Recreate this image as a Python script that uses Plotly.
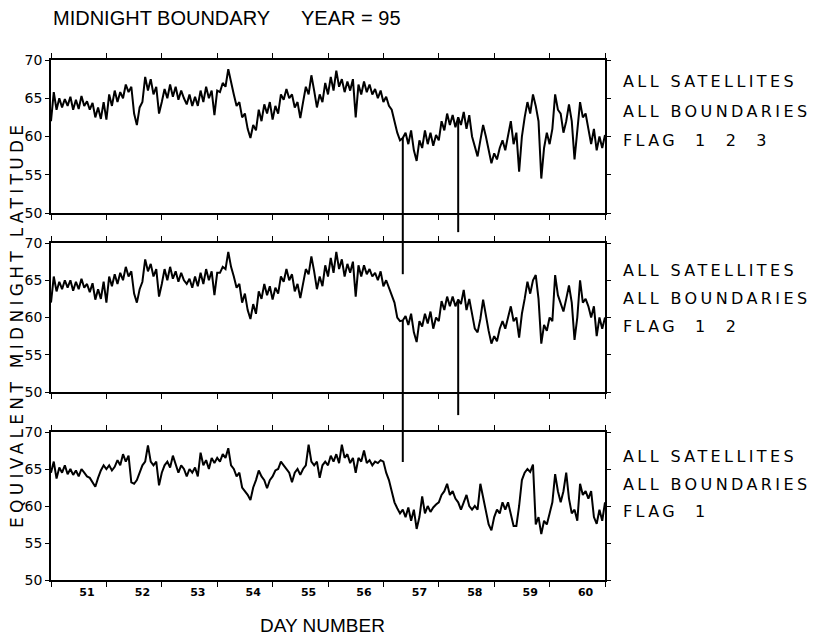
import plotly.graph_objects as go

# ---------------- data ----------------
DAY_START = 50.35
DAY_STEP = 0.05

# FLAG 1 2 3 (top panel), one row = half a day
flag123 = [
    62.0, 65.8, 63.5, 65.0, 63.8, 64.9, 64.0, 65.2, 63.5, 64.8,
    63.6, 65.3, 64.0, 64.6, 63.5, 64.4, 62.5, 63.8, 62.3, 64.5,
    62.2, 65.5, 64.0, 66.0, 64.5, 65.8, 65.0, 66.8, 65.8, 66.5,
    63.0, 61.5, 63.8, 64.5, 67.8, 66.0, 67.5, 65.5, 66.5, 63.0,
    64.5, 66.2, 65.0, 66.8, 65.2, 66.5, 64.8, 66.0, 65.0, 64.2,
    65.5, 64.0, 65.2, 64.0, 66.0, 64.5, 66.5, 65.0, 66.0, 62.8,
    66.0, 65.8, 67.0, 66.5, 68.8, 67.0, 65.5, 64.0, 64.5, 62.5,
    63.0, 61.0, 59.8, 61.5, 60.8, 63.5, 62.0, 64.2, 63.0, 64.5,
    62.2, 64.0, 63.0, 65.5, 64.8, 66.2, 65.0, 65.5, 63.8, 64.5,
    62.4, 64.5, 66.5, 65.5, 68.0, 66.0, 63.8, 65.5, 64.5, 67.0,
    65.5, 67.8, 66.0, 68.6, 66.5, 67.5, 65.8, 67.2, 66.0, 67.5,
    62.5, 66.8, 65.5, 67.2, 65.8, 66.8, 65.5, 66.2, 65.0, 66.0,
    64.5, 65.2, 64.0, 63.5, 62.0, 60.5, 59.5, 59.8, 60.5, 59.0,
    60.8, 58.2, 56.8, 59.5, 58.5, 60.8, 59.0, 60.5, 58.8, 60.2,
    59.5, 62.0, 60.8, 63.0, 61.5, 62.8, 61.2, 62.5, 61.5, 63.2,
    61.0, 62.8, 60.0, 58.5, 57.4, 59.5, 61.5, 60.0, 58.0, 56.5,
    57.8, 57.0, 58.5, 59.5, 58.2, 60.0, 62.0, 59.0, 60.5, 55.4,
    60.0, 62.5, 64.5, 63.0, 65.5, 64.0, 62.0, 54.5, 58.5, 60.5,
    59.0, 61.0, 65.5, 63.5, 63.0, 60.5, 62.0, 64.2, 62.0, 57.0,
    60.5, 64.5, 62.5, 63.0, 61.0, 59.0, 61.0, 58.2, 60.0, 58.5,
    60.2,
]
flag123_outlier_days = [56.70, 57.70]
flag123_outlier_lat = [42.0, 47.5]

# FLAG 1 2 (middle panel)
flag12 = [
    62.0, 65.5, 63.5, 64.8, 63.8, 65.0, 64.0, 65.0, 63.6, 64.8,
    63.8, 65.2, 64.0, 64.5, 63.4, 64.6, 62.4, 63.8, 62.5, 64.8,
    62.0, 65.5, 64.2, 65.8, 64.5, 66.0, 65.0, 66.8, 65.5, 66.2,
    63.2, 62.0, 63.8, 64.8, 67.8, 66.2, 67.2, 65.5, 66.5, 62.8,
    64.5, 66.5, 65.0, 66.8, 65.2, 66.2, 64.8, 66.0, 65.0, 64.5,
    65.2, 64.0, 65.5, 64.2, 66.0, 64.5, 66.5, 65.0, 66.2, 63.0,
    66.0, 66.0, 66.8, 66.5, 68.8, 66.8, 65.5, 64.0, 64.5, 62.0,
    63.2, 61.0, 59.8, 61.8, 60.5, 63.5, 62.5, 64.5, 63.0, 64.2,
    62.4, 64.0, 63.2, 65.5, 64.8, 66.5, 65.0, 65.8, 63.5, 64.5,
    62.6, 64.5, 66.5, 65.8, 68.2, 66.2, 63.8, 65.5, 64.2, 67.0,
    65.5, 68.0, 66.0, 68.8, 66.5, 67.8, 65.5, 67.2, 66.0, 67.5,
    62.8, 67.0, 65.5, 67.0, 65.8, 66.5, 65.5, 66.0, 65.0, 66.2,
    64.2, 65.0, 64.0, 63.2, 62.0, 60.0, 59.5, 59.6, 60.2, 59.0,
    60.5, 58.0, 56.7, 59.5, 58.8, 60.5, 59.2, 60.8, 58.5, 60.0,
    59.5, 62.2, 61.0, 62.8, 61.5, 62.8, 61.5, 62.4, 61.8, 63.7,
    61.0, 62.5, 60.5, 58.5, 58.0, 59.8, 62.4, 60.0, 58.2, 56.5,
    57.5, 56.8, 58.5, 59.5, 58.5, 60.0, 61.5, 59.5, 60.0, 57.3,
    60.5, 62.5, 64.8, 63.2, 65.0, 65.7, 62.5, 56.5, 59.0, 58.2,
    60.0, 59.5, 65.7, 63.0, 62.0, 60.8, 62.5, 64.3, 62.0, 57.0,
    60.0, 65.0, 62.0, 62.5, 61.5, 60.0, 61.5, 57.5, 60.0, 58.5,
    60.0,
]
flag12_outlier_days = [56.70, 57.70]
flag12_outlier_lat = [40.6, 46.9]

# FLAG 1 (bottom panel)
flag1 = [
    64.5, 66.0, 63.7, 65.2, 64.5, 65.5, 64.3, 65.0, 64.2, 64.8,
    64.0, 65.0, 64.5, 64.0, 63.8, 63.2, 62.6, 63.8, 64.8, 65.5,
    65.0, 65.5, 64.8, 65.3, 66.2, 65.5, 67.0, 66.0, 66.8, 63.2,
    63.0, 63.5, 64.5, 65.5, 66.0, 68.2, 66.0, 65.5, 66.0, 62.8,
    64.5, 65.5, 66.0, 65.2, 66.8, 65.5, 64.5, 65.5, 65.0, 64.0,
    65.0, 64.5, 65.2, 64.0, 67.2, 65.5, 66.2, 65.0, 66.5, 65.8,
    66.5, 66.0, 67.0, 66.5, 67.8, 65.5, 65.0, 64.0, 64.5, 62.5,
    62.0, 61.5, 60.8, 62.5, 63.5, 64.8, 64.0, 63.5, 62.4, 63.5,
    64.0, 64.8, 65.0, 66.0, 65.5, 65.0, 64.5, 63.2, 64.5, 65.0,
    64.2, 65.0, 65.5, 68.3, 66.0, 65.5, 66.0, 63.8, 65.5, 66.0,
    65.5, 66.8, 66.0, 67.0, 65.8, 68.3, 66.5, 67.0, 65.8, 66.5,
    64.5, 66.5, 66.0, 67.5, 65.8, 66.2, 65.5, 66.0, 65.8, 66.2,
    66.0, 64.5, 63.5, 62.0, 60.5, 59.7, 59.0, 59.5, 58.5, 59.8,
    58.0, 59.5, 56.9, 58.5, 61.3, 59.0, 60.0, 59.2, 59.8, 60.2,
    60.5, 61.5, 62.0, 63.0, 61.5, 62.0, 61.0, 60.5, 59.5, 60.5,
    61.5, 60.0, 59.5, 60.0, 59.5, 63.0, 61.0, 59.0, 57.5, 56.7,
    58.5, 59.5, 59.0, 60.5, 59.5, 60.5, 59.0, 57.3, 57.3, 60.0,
    63.5, 64.5, 65.0, 64.6, 65.6, 57.5, 58.5, 56.2, 58.0, 57.5,
    59.0, 60.5, 64.3, 62.0, 60.5, 62.0, 64.5, 61.0, 59.0, 59.5,
    58.0, 63.0, 61.5, 62.0, 61.0, 62.0, 58.5, 57.6, 59.5, 58.0,
    60.5,
]
flag1_outlier_days = []
flag1_outlier_lat = []

day_labels = [51, 52, 53, 54, 55, 56, 57, 58, 59, 60]
day_tick_marks = [50.35, 51.35, 52.35, 53.35, 54.35, 55.35, 56.35, 57.35, 58.35, 59.35, 60.35]
lat_ticks = [50, 55, 60, 65, 70]
panel_flags = ["FLAG&nbsp;&nbsp;1&nbsp;&nbsp;2&nbsp;&nbsp;3", "FLAG&nbsp;&nbsp;1&nbsp;&nbsp;2", "FLAG&nbsp;&nbsp;1"]
panel_series = [flag123, flag12, flag1]
panel_outliers = [(flag123_outlier_days, flag123_outlier_lat),
                  (flag12_outlier_days, flag12_outlier_lat),
                  (flag1_outlier_days, flag1_outlier_lat)]

# ---------------- layout geometry ----------------
# The page body has an 8 px margin, so the figure is drawn 8 px smaller and
# every screen position below is shifted by that amount.
PAGE_OFF = 8
W, H = 815 - PAGE_OFF, 637 - PAGE_OFF
PLOT_L, PLOT_R, PLOT_T, PLOT_B = 51, 605, 60, 580      # screen pixels of the plotting area
ML, MT = PLOT_L - PAGE_OFF, PLOT_T - PAGE_OFF
MR, MB = W - (PLOT_R - PAGE_OFF), H - (PLOT_B - PAGE_OFF)
PW, PH = PLOT_R - PLOT_L, PLOT_B - PLOT_T
X_RANGE = [50.35, 60.35]
Y_RANGE = [50, 70]


def py(pix):          # screen pixel row -> paper y
    return (PLOT_B - pix) / PH


def px(pix):          # screen pixel column -> paper x
    return (pix - PLOT_L) / PW


panel_px = [(60, 213), (243, 392), (432, 580)]   # (top, bottom) screen rows of the frames
ext_bottom_px = [335, 485, 580]                  # data areas reach lower so outliers show
label_rows_px = [(82, 111, 140), (270, 298, 326), (456, 484, 511)]

FONT = "DejaVu Sans"
HFONT = "Liberation Sans"
LINE = dict(color="black", width=2.0)
fig = go.Figure()

for i, ((top, bot), ebot, series, (odays, olat)) in enumerate(
        zip(panel_px, ext_bottom_px, panel_series, panel_outliers)):
    n_frame = i + 1
    n_data = i + 4
    fx = "x" if n_frame == 1 else f"x{n_frame}"
    fy = "y" if n_frame == 1 else f"y{n_frame}"
    dx, dy = f"x{n_data}", f"y{n_data}"
    # frame (empty) subplot
    fig.add_trace(go.Scatter(x=[None], y=[None], xaxis=fx, yaxis=fy, showlegend=False,
                             hoverinfo="skip"))
    days = [DAY_START + DAY_STEP * k for k in range(len(series))]
    fig.add_trace(go.Scatter(x=days, y=series, xaxis=dx, yaxis=dy, mode="lines",
                             line=LINE, showlegend=False))
    # isolated outliers: drop straight down from the series at the same time
    for d, v in zip(odays, olat):
        k = round((d - DAY_START) / DAY_STEP)
        fig.add_trace(go.Scatter(x=[d, d], y=[series[k], v], xaxis=dx, yaxis=dy,
                                 mode="lines", line=LINE, showlegend=False))

    frame_dom = [py(bot), py(top)]
    ext_dom = [py(ebot), py(top)]
    units_per_px = (Y_RANGE[1] - Y_RANGE[0]) / (bot - top)
    ext_range = [Y_RANGE[1] - units_per_px * (ebot - top), Y_RANGE[1]]

    fig.layout["xaxis" + ("" if n_frame == 1 else str(n_frame))] = dict(
        domain=[0, 1], range=X_RANGE, anchor=fy, showline=True, mirror="ticks",
        linecolor="black", linewidth=1.7, ticks="outside", ticklen=5, tickwidth=1.4,
        tickcolor="black", tickmode="array", tickvals=day_tick_marks,
        showticklabels=False, showgrid=False, zeroline=False, fixedrange=True)
    fig.layout["yaxis" + ("" if n_frame == 1 else str(n_frame))] = dict(
        domain=frame_dom, range=Y_RANGE, anchor=fx, showline=True, mirror="ticks",
        linecolor="black", linewidth=1.7, ticks="outside", ticklen=4, tickwidth=1.4,
        tickcolor="black", tickmode="array", tickvals=lat_ticks,
        ticktext=[str(v) for v in lat_ticks],
        tickfont=dict(family=FONT, size=14, color="black"),
        showgrid=False, zeroline=False, fixedrange=True)

    xdata = dict(domain=[0, 1], range=X_RANGE, anchor=dy, showgrid=False, zeroline=False,
                 showline=False, fixedrange=True)
    if i == 2:
        xdata.update(ticks="", tickmode="array", tickvals=day_labels,
                     ticktext=["<b>%d</b>" % d for d in day_labels],
                     tickfont=dict(family=FONT, size=11, color="black"), ticklabelstandoff=4)
    else:
        xdata.update(visible=False)
    fig.layout[f"xaxis{n_data}"] = xdata
    fig.layout[f"yaxis{n_data}"] = dict(domain=ext_dom, range=ext_range, anchor=dx,
                                         visible=False, fixedrange=True)

    # right-hand labels
    for txt, row in zip(["ALL SATELLITES", "ALL BOUNDARIES", panel_flags[i]], label_rows_px[i]):
        fig.add_annotation(
            text='<span style="letter-spacing:3.4px">%s</span>' % txt,
            xref="paper", yref="paper", x=px(621), y=py(row),
            xanchor="left", yanchor="middle", showarrow=False,
            font=dict(family=FONT, size=16, color="black"))

# title
fig.add_annotation(text="MIDNIGHT BOUNDARY", xref="paper", yref="paper",
                   x=px(51), y=py(18), xanchor="left", yanchor="middle", showarrow=False,
                   font=dict(family=HFONT, size=20, color="black"))
fig.add_annotation(text="YEAR = 95", xref="paper", yref="paper",
                   x=px(299), y=py(18), xanchor="left", yanchor="middle", showarrow=False,
                   font=dict(family=HFONT, size=20, color="black"))
# axis titles
fig.add_annotation(text='<span style="letter-spacing:4.3px">EQUIVALENT MIDNIGHT LATITUDE</span>',
                   xref="paper", yref="paper", x=px(17), y=py(325), textangle=-90,
                   xanchor="center", yanchor="middle", showarrow=False,
                   font=dict(family=FONT, size=17, color="black"))
fig.add_annotation(text="DAY NUMBER", xref="paper", yref="paper",
                   x=px(322), y=py(625), xanchor="center", yanchor="middle", showarrow=False,
                   font=dict(family=HFONT, size=19, color="black"))

fig.update_layout(width=W, height=H, margin=dict(l=ML, r=MR, t=MT, b=MB),
                  paper_bgcolor="white", plot_bgcolor="rgba(0,0,0,0)",
                  showlegend=False, hovermode=False)

fig.write_html("out.html")
